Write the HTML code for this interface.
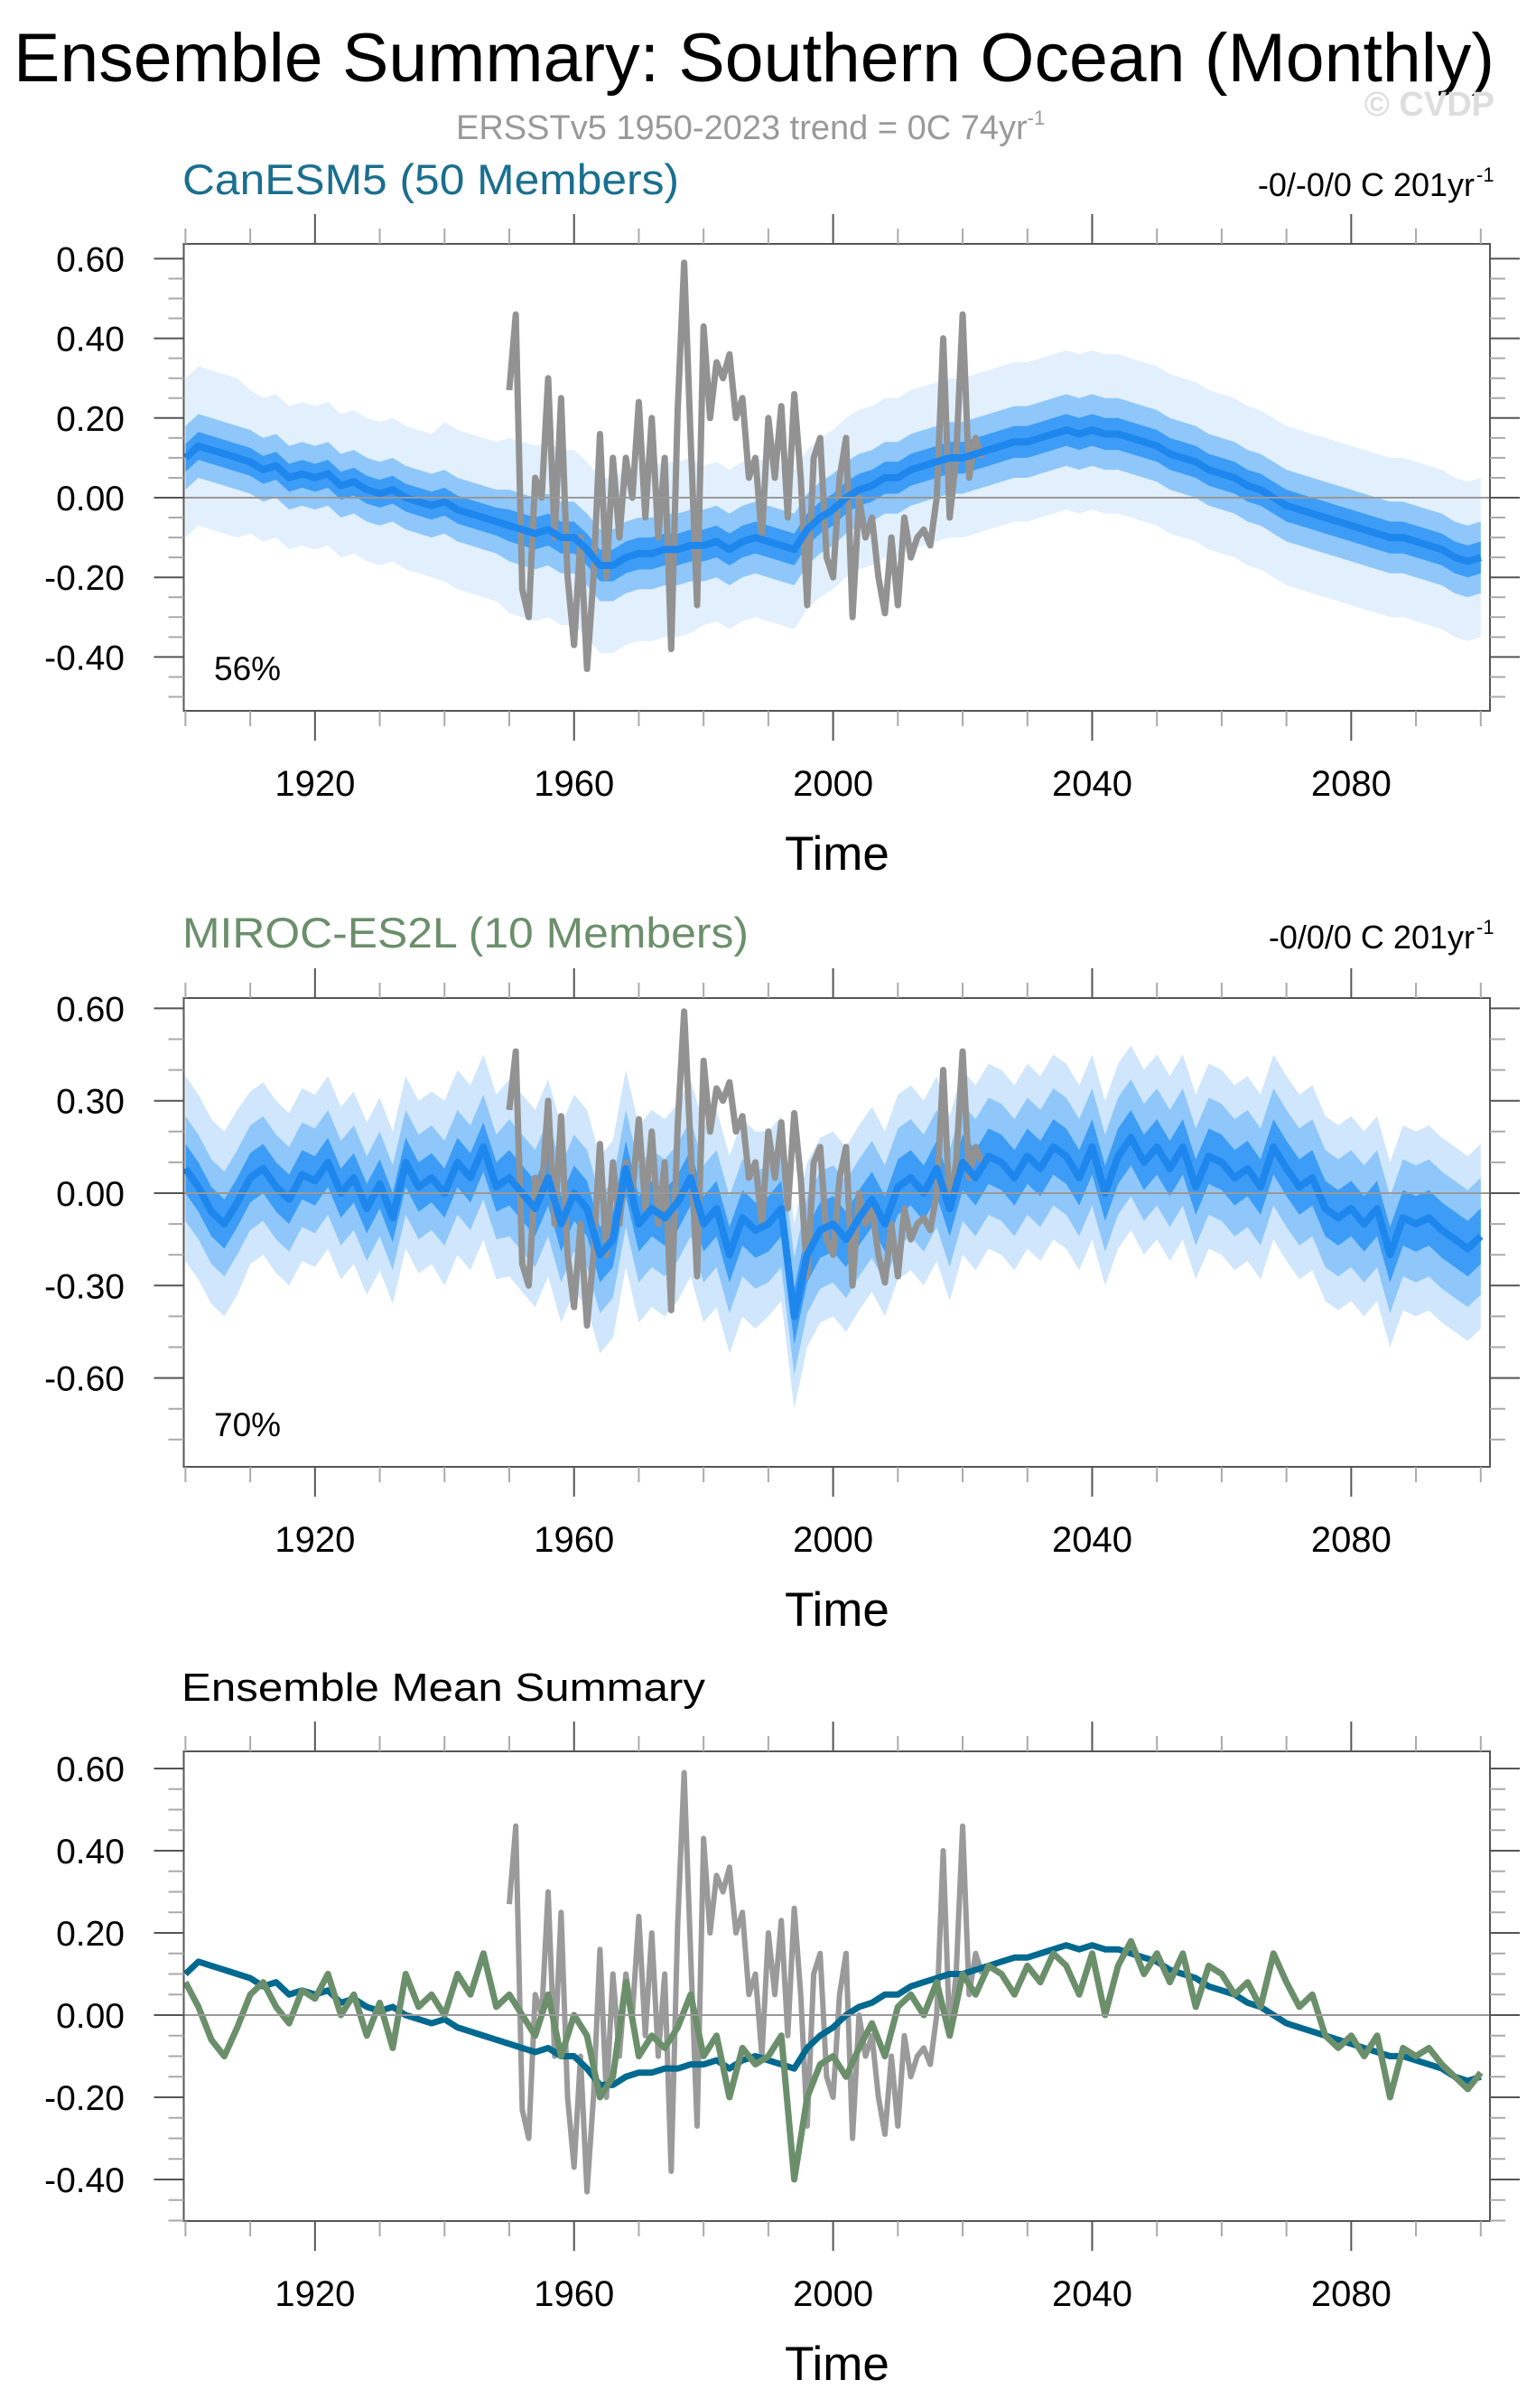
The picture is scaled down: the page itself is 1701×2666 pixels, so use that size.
<!DOCTYPE html>
<html><head><meta charset="utf-8"><style>
html,body{margin:0;padding:0;background:#fff}
svg{display:block;font-family:"Liberation Sans",Arial,sans-serif}
</style></head><body>
<svg id="fig" width="1701" height="2666" viewBox="0 0 1701 2666" xmlns="http://www.w3.org/2000/svg">
<rect width="1701" height="2666" fill="#fff"/>
<text x="15" y="90" font-size="76" textLength="1640" lengthAdjust="spacingAndGlyphs">Ensemble Summary: Southern Ocean (Monthly)</text>
<text x="505" y="154" font-size="38" fill="#999">ERSSTv5 1950-2023 trend = 0C 74yr<tspan font-size="22" dy="-16">-1</tspan></text>
<text x="1655" y="128" font-size="38" font-weight="bold" fill="#ddd" text-anchor="end">© CVDP</text>
<text x="202" y="215" font-size="47" fill="#1a6f8f" textLength="550" lengthAdjust="spacingAndGlyphs">CanESM5 (50 Members)</text>
<text x="1633" y="217" font-size="36" text-anchor="end">-0/-0/0 C 201yr</text>
<text x="1635" y="201" font-size="22">-1</text>
<text x="202" y="1049" font-size="47" fill="#6b8f6b" textLength="627" lengthAdjust="spacingAndGlyphs">MIROC-ES2L (10 Members)</text>
<text x="1633" y="1050" font-size="36" text-anchor="end">-0/0/0 C 201yr</text>
<text x="1635" y="1034" font-size="22">-1</text>
<text x="201" y="1883" font-size="44" textLength="580" lengthAdjust="spacingAndGlyphs">Ensemble Mean Summary</text>
</svg>
<script>
// ---- data ----
const meanYears = []; for (let y = 1900; y <= 2100; y += 2) meanYears.push(y);
const canMean = [0.10,0.13,0.12,0.11,0.10,0.09,0.07,0.08,0.05,0.06,
0.05,0.06,0.03,0.04,0.02,0.01,0.02,0.0,-0.01,-0.02,
-0.01,-0.03,-0.04,-0.05,-0.06,-0.07,-0.08,-0.09,-0.08,-0.10,
-0.10,-0.13,-0.17,-0.17,-0.15,-0.14,-0.14,-0.13,-0.13,-0.12,
-0.12,-0.11,-0.13,-0.11,-0.10,-0.11,-0.12,-0.13,-0.08,-0.05,
-0.03,0.0,0.02,0.03,0.05,0.05,0.07,0.08,0.09,0.10,
0.10,0.11,0.12,0.13,0.14,0.14,0.15,0.16,0.17,0.16,
0.17,0.16,0.16,0.15,0.14,0.13,0.11,0.10,0.09,0.07,
0.06,0.05,0.03,0.02,0.0,-0.02,-0.03,-0.04,-0.05,-0.06,
-0.07,-0.08,-0.09,-0.10,-0.10,-0.11,-0.12,-0.13,-0.15,-0.16,-0.15];
const mirocMean = [0.08,0.02,-0.06,-0.10,-0.03,0.05,0.08,0.02,-0.02,0.06,
0.04,0.10,0.0,0.05,-0.05,0.03,-0.08,0.10,0.02,0.05,
0.0,0.10,0.05,0.15,0.02,0.05,0.0,-0.05,0.05,-0.10,
0.0,-0.05,-0.20,-0.15,0.08,-0.10,-0.05,-0.08,-0.03,0.05,
-0.10,-0.05,-0.20,-0.08,-0.12,-0.10,-0.05,-0.40,-0.20,-0.12,
-0.10,-0.15,-0.08,-0.02,-0.10,0.02,0.05,0.0,0.08,-0.05,
0.10,0.05,0.12,0.10,0.05,0.12,0.08,0.15,0.12,0.05,
0.15,0.0,0.12,0.18,0.10,0.15,0.08,0.15,0.02,0.12,
0.10,0.05,0.08,0.02,0.15,0.08,0.02,0.05,-0.05,-0.08,
-0.05,-0.10,-0.05,-0.20,-0.08,-0.10,-0.08,-0.12,-0.15,-0.18,-0.14];
const obsYears = []; for (let y = 1950; y <= 2023; y++) obsYears.push(y);
const obsValues = [0.27,0.46,-0.23,-0.30,0.05,0.0,0.30,-0.10,0.25,-0.20,
-0.37,-0.10,-0.43,-0.20,0.16,-0.20,0.10,-0.10,0.10,0.0,
0.24,-0.05,0.20,-0.10,0.10,-0.38,0.22,0.59,0.15,-0.27,
0.43,0.20,0.34,0.30,0.36,0.20,0.25,0.05,0.10,-0.10,
0.20,0.05,0.23,-0.05,0.26,0.05,-0.27,0.10,0.15,-0.15,
-0.20,0.05,0.15,-0.30,0.0,-0.10,-0.05,-0.20,-0.29,-0.10,
-0.27,-0.05,-0.15,-0.10,-0.08,-0.12,0.0,0.40,-0.05,0.10,
0.46,0.05,0.15,0.10];
// decadal half-widths of ensemble spread (1900..2100)
const canInnerHalf = [0.035,0.035,0.035,0.035,0.035,0.04,0.04,0.04,0.04,0.04,0.04,0.04,0.04,0.04,0.04,0.04,0.04,0.04,0.04,0.04,0.04];
const canOuterHalf = [0.08,0.08,0.08,0.08,0.08,0.09,0.09,0.09,0.09,0.09,0.09,0.09,0.09,0.09,0.09,0.09,0.09,0.09,0.09,0.09,0.09];
const canSpikeHalf = [0.20,0.18,0.18,0.18,0.20,0.22,0.22,0.22,0.20,0.20,0.20,0.20,0.20,0.20,0.20,0.20,0.20,0.20,0.20,0.20,0.20];
const mirocInnerHalf = [0.08,0.08,0.08,0.08,0.08,0.09,0.09,0.09,0.09,0.09,0.09,0.09,0.09,0.09,0.09,0.09,0.09,0.09,0.09,0.09,0.09];
const mirocOuterHalf = [0.17,0.17,0.17,0.17,0.17,0.19,0.19,0.19,0.19,0.19,0.19,0.19,0.19,0.19,0.19,0.19,0.19,0.19,0.19,0.19,0.19];
const mirocSpikeHalf = [0.30,0.28,0.28,0.28,0.30,0.32,0.32,0.32,0.32,0.30,0.30,0.30,0.30,0.30,0.30,0.30,0.30,0.30,0.30,0.30,0.30];
const yMajor1 = [-0.4,-0.2,0,0.2,0.4,0.6];
const yMajor2 = [-0.6,-0.3,0,0.3,0.6];
const yMajor3 = [-0.4,-0.2,0,0.2,0.4,0.6];
const xMajor = [1920,1960,2000,2040,2080];

// ---- layout ----
const NS = "http://www.w3.org/2000/svg";
const svg = document.getElementById('fig');
const L = 203.5, R = 1650;
const x = yr => 205.4 + (yr - 1900) * 7.172;
const panels = [
 {top:270,bottom:787,y0:551,k:441,major:yMajor1,minStep:0.05,lo:-0.5,hi:0.6,fmt:2,kind:'can',pct:'56%',id:'canesm5'},
 {top:1105,bottom:1624,y0:1321,k:341,major:yMajor2,minStep:0.1,lo:-0.8,hi:0.6,fmt:2,kind:'miroc',pct:'70%',id:'miroc'},
 {top:1939,bottom:2459,y0:2231,k:455,major:yMajor3,minStep:0.05,lo:-0.5,hi:0.6,fmt:2,kind:'mean',id:'mean'}
];
function mk(tag, attrs, parent){const e=document.createElementNS(NS,tag);for(const a in attrs)e.setAttribute(a,attrs[a]);(parent||svg).appendChild(e);return e;}
function hw(arr, yr){return arr[Math.min(arr.length-1, Math.floor((yr-1900)/10))];}

panels.forEach(p=>{
 const Y = v => p.y0 - v*p.k;
 const g = mk('g',{});
 
 
 const clipId = 'clip-'+p.id;
 const cp = mk('clipPath',{id:clipId},g); mk('rect',{x:L,y:p.top,width:R-L,height:p.bottom-p.top},cp);
 const plot = mk('g',{'clip-path':'url(#'+clipId+')'},g);
 function band(mean, half, fill, name){
  let up=[],dn=[];
  meanYears.forEach((yr,i)=>{up.push(x(yr)+','+Y(mean[i]+hw(half,yr)));dn.push(x(yr)+','+Y(mean[i]-hw(half,yr)));});
  const e = mk('polygon',{points:up.concat(dn.reverse()).join(' '),fill:fill},plot);
  
  
 }
 function line(xs, vals, color, w, name){
  const pts = xs.map((yr,i)=>x(yr)+','+Y(vals[i])).join(' ');
  const e = mk('polyline',{points:pts,fill:'none',stroke:color,'stroke-width':w,'stroke-linejoin':'round'},plot);
  
  
 }
 const zl = mk('line',{x1:L,x2:R+33,y1:Y(0),y2:Y(0),stroke:'#999','stroke-width':2},g);
 
 
 if(p.kind!=='mean'){
  const m = p.kind==='can'?canMean:mirocMean;
  const sp = p.kind==='can'?canSpikeHalf:mirocSpikeHalf;
  const ou = p.kind==='can'?canOuterHalf:mirocOuterHalf;
  const inn = p.kind==='can'?canInnerHalf:mirocInnerHalf;
  band(m, sp, p.kind==='can'?'#e2f0fd':'#cfe6fc', p.id+'-spread-max');
  band(m, ou, '#8fc7fa', p.id+'-spread-outer');
  band(m, inn, '#3d9cf5', p.id+'-spread-inner');
  line(obsYears, obsValues, '#929292', 7, p.id+'-obs-line');
  line(meanYears, m, '#1e87ee', 8, p.id+'-ensemble-mean-line');
 } else {
  line(obsYears, obsValues, '#9a9a9a', 6, 'obs-line');
  line(meanYears, canMean, '#00698f', 7, 'canesm5-mean-line');
  line(meanYears, mirocMean, '#6b8f6b', 7, 'miroc-mean-line');
 }
 mk('rect',{x:L,y:p.top,width:R-L,height:p.bottom-p.top,fill:'none',stroke:'#555','stroke-width':2},g);
 // y ticks
 for(let v=p.lo; v<=p.hi+1e-6; v+=p.minStep){
  const isMaj = p.major.some(m=>Math.abs(m-v)<1e-6);
  const len = isMaj?33:17, col = isMaj?'#555':'#aaa';
  mk('line',{x1:L-len,x2:L,y1:Y(v),y2:Y(v),stroke:col,'stroke-width':2},g);
  mk('line',{x1:R,x2:R+len,y1:Y(v),y2:Y(v),stroke:col,'stroke-width':2},g);
 }
 p.major.forEach(v=>{
  const t = mk('text',{x:138,y:Y(v)+14,'font-size':39,'text-anchor':'end'},g);
  t.textContent = v.toFixed(p.fmt);
  
  
 });
 // x ticks
 for(let yr=1900; yr<=2100; yr+=10){
  const isMaj = xMajor.includes(yr);
  const len = isMaj?33:17, col = isMaj?'#555':'#aaa';
  mk('line',{x1:x(yr),x2:x(yr),y1:p.top-len,y2:p.top,stroke:col,'stroke-width':2},g);
  mk('line',{x1:x(yr),x2:x(yr),y1:p.bottom,y2:p.bottom+len,stroke:col,'stroke-width':2},g);
 }
 xMajor.forEach(yr=>{
  const t = mk('text',{x:x(yr),y:p.bottom+94,'font-size':40,'text-anchor':'middle'},g);
  t.textContent = yr;
  
  
 });
 const xt = mk('text',{x:927,y:p.bottom+176,'font-size':53,'text-anchor':'middle'},g);
 xt.textContent = 'Time';
 
 
 if(p.pct){
  const pt = mk('text',{x:237,y:p.bottom-34,'font-size':37},g);
  pt.textContent = p.pct;
  
  
 }
});
</script>
</body></html>
